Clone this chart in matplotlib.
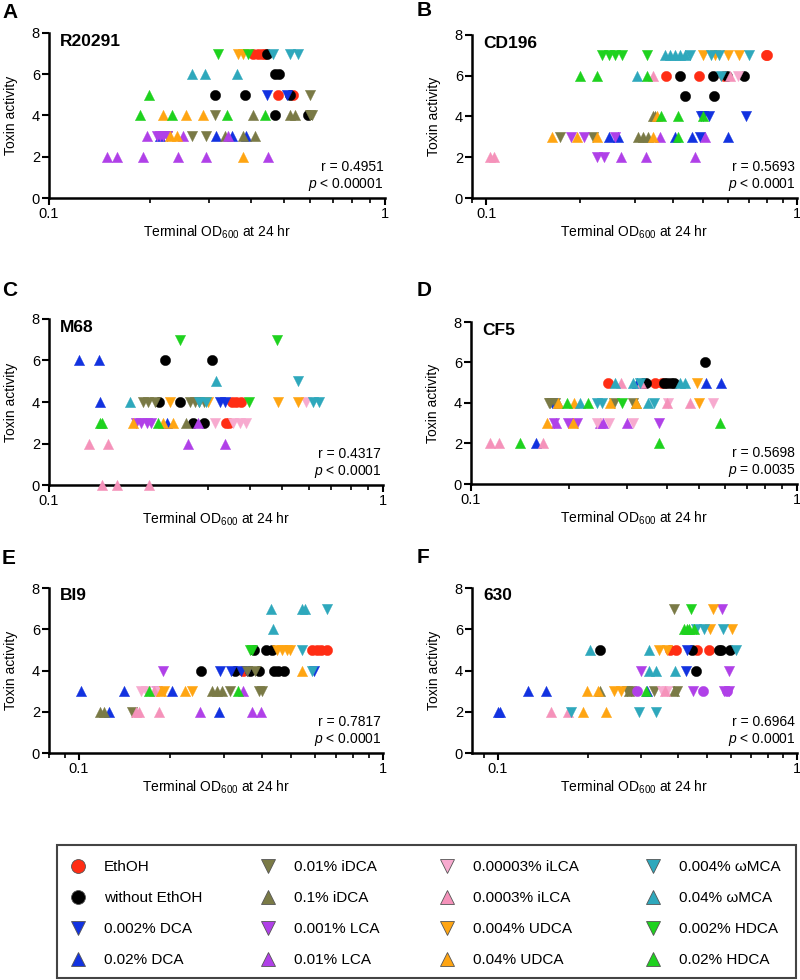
import matplotlib
matplotlib.use("Agg")
import matplotlib.pyplot as plt
from matplotlib.lines import Line2D
from matplotlib.patches import Rectangle
from matplotlib.ticker import NullFormatter, FixedLocator, LogLocator

plt.rcParams['font.family'] = ['Liberation Sans', 'DejaVu Sans']
plt.rcParams['mathtext.fontset'] = 'custom'
plt.rcParams['mathtext.rm'] = 'Liberation Sans'
plt.rcParams['mathtext.it'] = 'Liberation Sans:italic'

# ---------------- series definitions ----------------
series_keys = ['EtOH', 'noEtOH', 'DCA_lo', 'DCA_hi', 'iDCA_lo', 'iDCA_hi',
               'LCA_lo', 'LCA_hi', 'iLCA_lo', 'iLCA_hi', 'UDCA_lo', 'UDCA_hi',
               'wMCA_lo', 'wMCA_hi', 'HDCA_lo', 'HDCA_hi', 'LCA_circ']
series_labels = ['EthOH', 'without EthOH', '0.002% DCA', '0.02% DCA',
                 '0.01% iDCA', '0.1% iDCA', '0.001% LCA', '0.01% LCA',
                 '0.00003% iLCA', '0.0003% iLCA', '0.004% UDCA', '0.04% UDCA',
                 '0.004% ωMCA', '0.04% ωMCA', '0.002% HDCA', '0.02% HDCA', None]
series_markers = ['o', 'o', 'v', '^', 'v', '^', 'v', '^', 'v', '^', 'v', '^',
                  'v', '^', 'v', '^', 'o']
series_colors = ['#FF2D14', '#000000', '#1232E0', '#1232E0', '#7A7A46', '#7A7A46',
                 '#B040E8', '#B040E8', '#F7AACF', '#F592BA', '#FFA512', '#FFA512',
                 '#2EA8BC', '#2EA8BC', '#1ED21E', '#1ED21E', '#B040E8']

# ---------------- data: (terminal OD600, toxin activity) ----------------
A_pts = {
    'EtOH': [(0.405, 7), (0.418, 7), (0.43, 7), (0.44, 7), (0.48, 5), (0.534, 5)],
    'noEtOH': [(0.444, 7), (0.471, 6), (0.482, 6), (0.312, 5), (0.383, 5), (0.521, 5), (0.471, 4), (0.59, 4)],
    'DCA_lo': [(0.444, 5), (0.51, 5)],
    'DCA_hi': [(0.214, 3), (0.315, 3), (0.35, 3), (0.387, 3)],
    'iDCA_lo': [(0.598, 5), (0.312, 4), (0.60, 4), (0.605, 4), (0.224, 3), (0.266, 3), (0.294, 3)],
    'iDCA_hi': [(0.405, 4), (0.521, 4), (0.539, 4), (0.334, 3), (0.379, 3), (0.41, 3)],
    'LCA_lo': [(0.209, 3), (0.214, 3), (0.219, 3), (0.224, 3)],
    'LCA_hi': [(0.196, 3), (0.251, 3), (0.34, 3), (0.149, 2), (0.159, 2), (0.191, 2), (0.242, 2), (0.293, 2), (0.447, 2)],
    'UDCA_lo': [(0.366, 7), (0.378, 7)],
    'UDCA_hi': [(0.219, 4), (0.255, 4), (0.288, 4), (0.229, 3), (0.24, 3), (0.379, 2)],
    'wMCA_lo': [(0.465, 7), (0.521, 7), (0.552, 7)],
    'wMCA_hi': [(0.266, 6), (0.291, 6), (0.362, 6)],
    'HDCA_lo': [(0.319, 7), (0.39, 7)],
    'HDCA_hi': [(0.198, 5), (0.187, 4), (0.232, 4), (0.338, 4), (0.439, 4)],
}
B_pts = {
    'EtOH': [(0.792, 7), (0.80, 7), (0.38, 6), (0.483, 6), (0.583, 6)],
    'noEtOH': [(0.419, 6), (0.538, 6), (0.595, 6), (0.676, 6), (0.435, 5), (0.539, 5)],
    'DCA_lo': [(0.49, 4), (0.50, 4), (0.52, 4), (0.683, 4), (0.486, 3)],
    'DCA_hi': [(0.248, 3), (0.266, 3), (0.404, 3), (0.46, 3), (0.598, 3)],
    'iDCA_lo': [(0.173, 3), (0.22, 3)],
    'iDCA_hi': [(0.345, 4), (0.35, 4), (0.308, 3), (0.32, 3), (0.332, 3)],
    'LCA_lo': [(0.187, 3), (0.206, 3), (0.26, 3), (0.227, 2), (0.24, 2)],
    'LCA_hi': [(0.362, 3), (0.507, 3), (0.271, 2), (0.326, 2), (0.468, 2)],
    'iLCA_lo': [(0.644, 6)],
    'iLCA_hi': [(0.345, 6), (0.61, 6), (0.1025, 2), (0.106, 2)],
    'UDCA_lo': [(0.497, 7), (0.545, 7), (0.598, 7), (0.651, 7)],
    'UDCA_hi': [(0.355, 4), (0.163, 3), (0.196, 3), (0.227, 3), (0.345, 3)],
    'wMCA_lo': [(0.451, 7), (0.529, 7), (0.562, 7), (0.701, 7), (0.568, 6)],
    'wMCA_hi': [(0.375, 7), (0.389, 7), (0.404, 7), (0.419, 7), (0.435, 7), (0.305, 6)],
    'HDCA_lo': [(0.236, 7), (0.248, 7), (0.26, 7), (0.273, 7), (0.33, 7)],
    'HDCA_hi': [(0.201, 6), (0.227, 6), (0.33, 6), (0.366, 4), (0.414, 4), (0.497, 4), (0.414, 3)],
}
C_pts = {
    'EtOH': [(0.352, 4), (0.364, 4), (0.377, 4), (0.339, 3), (0.345, 3)],
    'noEtOH': [(0.222, 6), (0.307, 6), (0.213, 4), (0.246, 4), (0.27, 3), (0.292, 3)],
    'DCA_lo': [(0.324, 4), (0.336, 4)],
    'DCA_hi': [(0.123, 6), (0.141, 6), (0.142, 4), (0.225, 3)],
    'iDCA_lo': [(0.191, 4), (0.198, 4), (0.208, 4), (0.264, 4), (0.273, 4), (0.282, 4), (0.292, 4)],
    'iDCA_hi': [(0.258, 3)],
    'LCA_lo': [(0.182, 3), (0.189, 3), (0.196, 3), (0.202, 3)],
    'LCA_hi': [(0.279, 3), (0.26, 2), (0.336, 2)],
    'iLCA_lo': [(0.589, 4), (0.313, 3), (0.355, 3), (0.372, 3), (0.389, 3)],
    'iLCA_hi': [(0.132, 2), (0.15, 2), (0.144, 0), (0.16, 0), (0.199, 0)],
    'UDCA_lo': [(0.23, 4), (0.30, 4), (0.486, 4), (0.557, 4)],
    'UDCA_hi': [(0.178, 3), (0.219, 3), (0.235, 3)],
    'wMCA_lo': [(0.557, 5), (0.282, 4), (0.296, 4), (0.617, 4), (0.643, 4)],
    'wMCA_hi': [(0.317, 5), (0.175, 4)],
    'HDCA_lo': [(0.246, 7), (0.482, 7), (0.398, 4)],
    'HDCA_hi': [(0.142, 3), (0.144, 3), (0.212, 3)],
}
D_pts = {
    'EtOH': [(0.264, 5), (0.367, 5), (0.385, 5)],
    'noEtOH': [(0.523, 6), (0.338, 5), (0.345, 5), (0.39, 5), (0.399, 5), (0.41, 5), (0.418, 5)],
    'DCA_lo': [(0.177, 4)],
    'DCA_hi': [(0.324, 5), (0.527, 5), (0.584, 5), (0.158, 2)],
    'iDCA_lo': [(0.173, 4), (0.175, 4), (0.181, 4), (0.275, 4), (0.315, 4)],
    'iDCA_hi': [(0.185, 4), (0.32, 4)],
    'LCA_lo': [(0.18, 3), (0.199, 3), (0.212, 3), (0.376, 3)],
    'LCA_hi': [(0.182, 3), (0.249, 3), (0.254, 3), (0.30, 3)],
    'iLCA_lo': [(0.243, 3), (0.265, 3), (0.314, 3), (0.401, 4), (0.553, 4)],
    'iLCA_hi': [(0.288, 5), (0.332, 5), (0.399, 4), (0.47, 4), (0.114, 2), (0.122, 2), (0.166, 2)],
    'UDCA_lo': [(0.493, 5), (0.499, 4)],
    'UDCA_hi': [(0.185, 4), (0.207, 4), (0.267, 4), (0.32, 4), (0.171, 3), (0.206, 3)],
    'wMCA_lo': [(0.33, 5), (0.243, 4), (0.252, 4), (0.365, 4)],
    'wMCA_hi': [(0.277, 5), (0.315, 5), (0.438, 5), (0.454, 5), (0.216, 4), (0.348, 4)],
    'HDCA_lo': [(0.29, 4)],
    'HDCA_hi': [(0.197, 4), (0.228, 4), (0.579, 3), (0.141, 2), (0.376, 2)],
}
E_pts = {
    'EtOH': [(0.583, 5), (0.605, 5), (0.628, 5), (0.653, 5), (0.348, 4)],
    'noEtOH': [(0.377, 5), (0.413, 5), (0.431, 5), (0.253, 4), (0.326, 4), (0.366, 4), (0.393, 4), (0.437, 4), (0.453, 4), (0.473, 4)],
    'DCA_lo': [(0.291, 4), (0.318, 4), (0.341, 4), (0.357, 4), (0.593, 4)],
    'DCA_hi': [(0.102, 3), (0.141, 3), (0.203, 3), (0.126, 2), (0.289, 2)],
    'iDCA_lo': [(0.357, 4), (0.38, 4), (0.315, 3), (0.393, 3), (0.40, 3), (0.15, 2)],
    'iDCA_hi': [(0.274, 3), (0.285, 3), (0.296, 3), (0.118, 2), (0.121, 2)],
    'LCA_lo': [(0.19, 4), (0.181, 3)],
    'LCA_hi': [(0.347, 3), (0.251, 2), (0.371, 2), (0.397, 2)],
    'iLCA_lo': [(0.16, 3), (0.166, 3), (0.181, 3)],
    'iLCA_hi': [(0.177, 3), (0.154, 2), (0.158, 2), (0.184, 2)],
    'UDCA_lo': [(0.448, 5), (0.465, 5), (0.483, 5), (0.495, 5), (0.191, 3), (0.236, 3)],
    'UDCA_hi': [(0.541, 4), (0.224, 3), (0.187, 3)],
    'wMCA_lo': [(0.656, 7), (0.541, 5), (0.583, 4)],
    'wMCA_hi': [(0.428, 7), (0.541, 7), (0.554, 7), (0.434, 6)],
    'HDCA_lo': [(0.366, 5), (0.372, 5)],
    'HDCA_hi': [(0.17, 3), (0.335, 3)],
}
F_pts = {
    'EtOH': [(0.376, 5), (0.393, 5), (0.462, 5), (0.508, 5)],
    'noEtOH': [(0.22, 5), (0.447, 5), (0.548, 5), (0.558, 5), (0.597, 5), (0.458, 4)],
    'DCA_lo': [(0.43, 5), (0.425, 4)],
    'DCA_hi': [(0.126, 3), (0.145, 3), (0.316, 3), (0.10, 2), (0.1015, 2)],
    'iDCA_lo': [(0.388, 7), (0.271, 3), (0.278, 3), (0.333, 3), (0.396, 3)],
    'iDCA_hi': [(0.219, 3), (0.275, 3), (0.388, 3)],
    'LCA_lo': [(0.563, 7), (0.302, 4), (0.592, 4), (0.45, 3), (0.57, 3), (0.592, 3)],
    'iLCA_lo': [(0.355, 3), (0.369, 3)],
    'iLCA_hi': [(0.361, 3), (0.151, 2), (0.171, 2)],
    'UDCA_lo': [(0.524, 7), (0.511, 6), (0.607, 6), (0.346, 5), (0.369, 5), (0.245, 3), (0.258, 3)],
    'UDCA_hi': [(0.198, 3), (0.216, 3), (0.193, 2), (0.23, 2)],
    'wMCA_lo': [(0.458, 6), (0.489, 6), (0.567, 6), (0.623, 5), (0.175, 2), (0.297, 2), (0.338, 2)],
    'wMCA_hi': [(0.203, 5), (0.319, 5), (0.321, 4), (0.337, 4), (0.39, 4)],
    'HDCA_lo': [(0.443, 7)],
    'HDCA_hi': [(0.419, 6), (0.428, 6), (0.437, 6), (0.453, 6), (0.312, 3)],
    'LCA_circ': [(0.293, 3), (0.485, 3), (0.585, 3)],
}

panel_letters = ['A', 'B', 'C', 'D', 'E', 'F']
strain_names = ['R20291', 'CD196', 'M68', 'CF5', 'BI9', '630']
r_values = ['0.4951', '0.5693', '0.4317', '0.5698', '0.7817', '0.6964']
p_values = ['< 0.00001', '< 0.0001', '< 0.0001', '= 0.0035', '< 0.0001', '< 0.0001']
panel_data = [A_pts, B_pts, C_pts, D_pts, E_pts, F_pts]
x_lower = [0.1, 0.09, 0.1, 0.1, 0.08, 0.082]
y_ticks = [0, 2, 4, 6, 8]

# ---------------- layout (pixels) ----------------
W, H = 800, 980
panel_px = [(49, 33, 385, 198), (472, 35, 797, 198),
            (49, 319, 383, 485), (471, 322, 797, 484),
            (49, 588, 383, 753), (472, 588, 797, 753)]
letter_px = [(2, 13), (417, 11), (2, 290), (417, 290), (2, 558), (417, 557)]


def frect(l, t, r, b):
    return [l / W, 1 - b / H, (r - l) / W, (b - t) / H]


fig = plt.figure(figsize=(W / 100, H / 100), dpi=100)

for i in range(6):
    l, t, r, b = panel_px[i]
    ax = fig.add_axes(frect(l, t, r, b))
    data = panel_data[i]
    for k, key in enumerate(series_keys):
        if key not in data:
            continue
        xs = [p[0] for p in data[key]]
        ys = [p[1] for p in data[key]]
        ax.scatter(xs, ys, marker=series_markers[k], s=55, c=series_colors[k],
                   edgecolors=series_colors[k], linewidths=0.3, clip_on=False,
                   zorder=3)
    ax.set_xscale('log')
    ax.set_xlim(x_lower[i], 1)
    ax.set_ylim(0, 8)
    ax.xaxis.set_major_locator(FixedLocator([0.1, 1]))
    ax.set_xticklabels(['0.1', '1'])
    ax.xaxis.set_minor_locator(LogLocator(base=10, subs=range(2, 10)))
    ax.xaxis.set_minor_formatter(NullFormatter())
    ax.set_yticks(y_ticks)
    for s in ['top', 'right']:
        ax.spines[s].set_visible(False)
    for s in ['left', 'bottom']:
        ax.spines[s].set_linewidth(1.8)
    ax.tick_params(axis='both', which='major', length=5, width=1.5,
                   labelsize=10.5, pad=1.5)
    ax.tick_params(axis='x', which='minor', length=3.5, width=1.2)
    ax.set_ylabel('Toxin activity', fontsize=10, labelpad=10)
    ax.set_xlabel('Terminal OD$_{600}$ at 24 hr', fontsize=10, labelpad=1.5)
    ax.text(0.995, 0.03, 'r = ' + r_values[i] + '\n$p$ ' + p_values[i],
            transform=ax.transAxes, ha='right', va='bottom', fontsize=10,
            multialignment='right', linespacing=1.15)
    fig.text((l + 11) / W, 1 - (t + 8) / H, strain_names[i], fontsize=12.5,
             fontweight='bold', ha='left', va='center')
    lx, ly = letter_px[i]
    fig.text(lx / W, 1 - ly / H, panel_letters[i], fontsize=15,
             fontweight='bold', ha='left', va='center')

# ---------------- legend ----------------
handles = []
for k in range(16):
    handles.append(Line2D([], [], linestyle='none', marker=series_markers[k],
                          markersize=10, markerfacecolor=series_colors[k],
                          markeredgecolor='#555555', markeredgewidth=0.6,
                          label=series_labels[k]))

fig.add_artist(Rectangle((57 / W, 1 - 978 / H), (796 - 57) / W, (978 - 845) / H,
                         transform=fig.transFigure, fill=False,
                         edgecolor='#444444', linewidth=1.5))
col_marker_x = [78, 268, 447, 653]
fs = 11
fs_px = fs * 100 / 72
for c in range(4):
    anchor_x = col_marker_x[c] - 0.75 * fs_px
    fig.legend(handles=handles[c * 4:(c + 1) * 4], loc='upper left',
               bbox_to_anchor=(anchor_x / W, 1 - 860 / H), frameon=False,
               fontsize=fs, borderpad=0, borderaxespad=0, handlelength=1.5,
               handletextpad=0.95, labelspacing=1.12)

fig.savefig('out.png', dpi=100)
